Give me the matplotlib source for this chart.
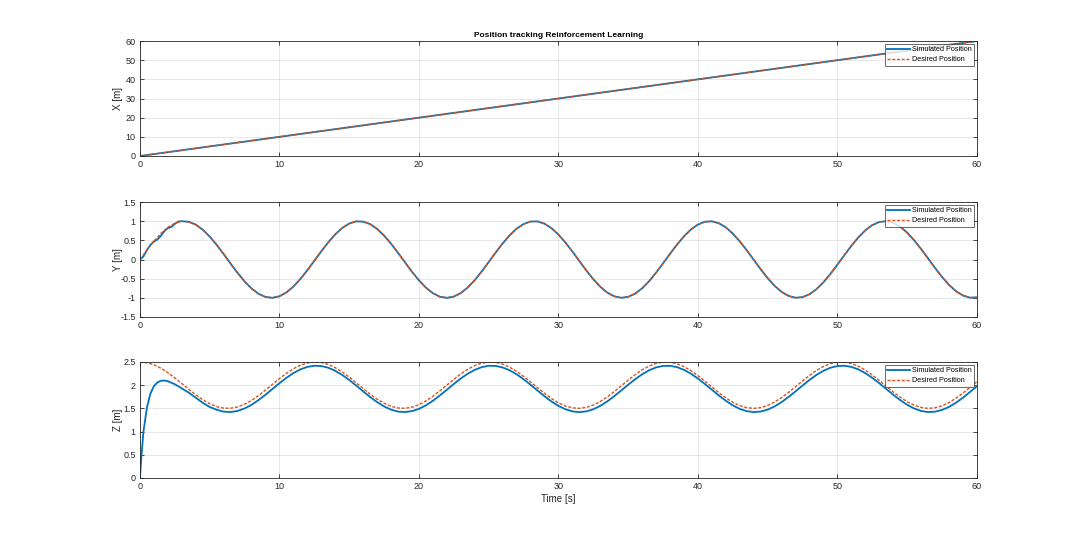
import numpy as np
import matplotlib
matplotlib.use("Agg")
import matplotlib.pyplot as plt

plt.rcParams['font.family'] = ['Liberation Sans', 'DejaVu Sans']

# sample times of the tracked signals [s]
t = np.linspace(0, 60, 121)

# X position (straight ramp)
t_x = [0, 10, 20, 30, 40, 50, 60]
x_desired = [0, 10, 20, 30, 40, 50, 60]
x_simulated = [0, 10, 20, 30, 40, 50, 60]

# Y desired position
y_desired = [
    0.000, 0.247, 0.479, 0.682, 0.841, 0.949, 0.997, 0.984, 0.909, 0.778,
    0.598, 0.382, 0.141, -0.108, -0.351, -0.572, -0.757, -0.895, -0.978, -0.999,
    -0.959, -0.859, -0.706, -0.508, -0.279, -0.033, 0.215, 0.450, 0.657, 0.823,
    0.938, 0.995, 0.989, 0.923, 0.798, 0.624, 0.412, 0.174, -0.075, -0.320,
    -0.544, -0.735, -0.880, -0.971, -1.000, -0.967, -0.875, -0.729, -0.537, -0.311,
    -0.066, 0.182, 0.420, 0.632, 0.804, 0.926, 0.991, 0.994, 0.935, 0.817,
    0.650, 0.441, 0.207, -0.041, -0.288, -0.516, -0.712, -0.864, -0.961, -0.999,
    -0.974, -0.890, -0.751, -0.565, -0.342, -0.099, 0.150, 0.390, 0.606, 0.784,
    0.913, 0.985, 0.997, 0.946, 0.837, 0.676, 0.472, 0.239, -0.009, -0.256,
    -0.488, -0.690, -0.846, -0.952, -0.998, -0.982, -0.906, -0.773, -0.591, -0.374,
    -0.132, 0.116, 0.359, 0.579, 0.763, 0.899, 0.980, 0.999, 0.956, 0.855,
    0.700, 0.501, 0.271, 0.025, -0.223, -0.457, -0.663, -0.828, -0.941, -0.996,
    -0.988,
]

# Y simulated: wobbly start, then on top of the reference
t_y_start = [0, 0.25, 0.5, 0.75, 1.0, 1.25, 1.5, 1.75, 2.0, 2.25, 2.5, 2.75, 3.0]
y_sim_start = [0, 0.08, 0.25, 0.38, 0.47, 0.52, 0.62, 0.74, 0.82, 0.85, 0.93, 0.99, 1.0]

# Z desired position
z_desired = [
    2.500, 2.485, 2.439, 2.366, 2.270, 2.158, 2.036, 1.911, 1.792, 1.686,
    1.600, 1.538, 1.505, 1.503, 1.532, 1.590, 1.673, 1.777, 1.895, 2.019,
    2.142, 2.256, 2.355, 2.431, 2.480, 2.500, 2.489, 2.447, 2.377, 2.284,
    2.174, 2.052, 1.927, 1.807, 1.699, 1.610, 1.545, 1.508, 1.502, 1.527,
    1.581, 1.661, 1.762, 1.879, 2.002, 2.126, 2.242, 2.343, 2.422, 2.475,
    2.499, 2.492, 2.454, 2.388, 2.298, 2.189, 2.069, 1.944, 1.823, 1.712,
    1.620, 1.552, 1.511, 1.501, 1.521, 1.572, 1.649, 1.748, 1.863, 1.986,
    2.110, 2.227, 2.330, 2.413, 2.470, 2.498, 2.495, 2.461, 2.398, 2.311,
    2.204, 2.085, 1.961, 1.838, 1.726, 1.631, 1.559, 1.515, 1.500, 1.517,
    1.564, 1.638, 1.734, 1.847, 1.969, 2.093, 2.212, 2.318, 2.403, 2.464,
    2.496, 2.497, 2.467, 2.408, 2.324, 2.219, 2.102, 1.978, 1.854, 1.741,
    1.643, 1.568, 1.519, 1.500, 1.513, 1.556, 1.626, 1.720, 1.831, 1.953,
    2.077,
]

# Z simulated: take-off transient then slightly below the reference
t_z_start = [0, 0.1, 0.25, 0.5, 0.75, 1.0, 1.25, 1.5, 1.75, 2.0, 2.5, 3.0, 3.5, 4.0, 4.5, 5.0, 5.5, 6.0]
z_sim_start = [0, 0.45, 1.0, 1.52, 1.82, 1.98, 2.06, 2.095, 2.10, 2.085, 2.02, 1.93, 1.84, 1.73, 1.62, 1.53, 1.47, 1.43]
z_sim_rest = [
    1.421, 1.445, 1.499, 1.578, 1.679, 1.795, 1.919,
    2.043, 2.159, 2.261, 2.341, 2.394, 2.419, 2.413, 2.376, 2.310, 2.220,
    2.113, 1.992, 1.867, 1.745, 1.635, 1.542, 1.473, 1.431, 1.421, 1.441,
    1.490, 1.566, 1.664, 1.780, 1.902, 2.027, 2.145, 2.248, 2.331, 2.389,
    2.418, 2.416, 2.382, 2.321, 2.234, 2.128, 2.009, 1.884, 1.762, 1.648,
    1.553, 1.481, 1.435, 1.420, 1.435, 1.482, 1.555, 1.651, 1.764, 1.886,
    2.011, 2.129, 2.235, 2.322, 2.383, 2.416, 2.418, 2.389, 2.330, 2.247,
    2.142, 2.025, 1.901, 1.777, 1.663, 1.565, 1.488, 1.440, 1.420, 1.432,
    1.474, 1.544, 1.637, 1.748, 1.869, 1.993, 2.114, 2.223, 2.311, 2.377,
    2.413, 2.419, 2.394, 2.340, 2.259, 2.157, 2.042, 1.918, 1.793, 1.678,
    1.577, 1.498, 1.444, 1.421, 1.429, 1.467, 1.533, 1.623, 1.732, 1.853,
    1.977,
]

t_y_sim = list(t_y_start) + list(t[7:])
y_simulated = list(y_sim_start) + list(y_desired[7:])
t_z_sim = list(t_z_start) + list(t[13:])
z_simulated = list(z_sim_start) + z_sim_rest

blue = '#0072BD'
orange = '#D95319'
axcol = '#262626'

fig = plt.figure(figsize=(10.8, 5.37), dpi=100)
fig.patch.set_facecolor('white')

boxes = [
    [0.1296, 0.7095, 0.775, 0.2141],
    [0.1296, 0.4097, 0.775, 0.2141],
    [0.1296, 0.1099, 0.775, 0.2160],
]

panels = [
    (t_x, x_simulated, t_x, x_desired, 'X [m]', [0, 60], np.arange(0, 61, 10)),
    (t_y_sim, y_simulated, t, y_desired, 'Y [m]', [-1.5, 1.5], np.arange(-1.5, 1.51, 0.5)),
    (t_z_sim, z_simulated, t, z_desired, 'Z [m]', [0, 2.5], np.arange(0, 2.51, 0.5)),
]

axes = []
for box, (ts, sim, td, des, ylab, ylim, yt) in zip(boxes, panels):
    ax = fig.add_axes(box)
    ax.plot(ts, sim, color=blue, lw=1.3, label='Simulated Position')
    ax.plot(td, des, color=orange, lw=1.0, ls='--', dashes=(2.2, 1.2), label='Desired Position')
    ax.set_xlim(0, 60)
    ax.set_ylim(ylim)
    ax.set_xticks(np.arange(0, 61, 10))
    ax.set_yticks(yt)
    ax.set_yticklabels(['%g' % v for v in yt])
    ax.grid(True, color='#262626', alpha=0.12, lw=0.6)
    ax.tick_params(direction='in', length=3, width=0.6, colors=axcol,
                   labelsize=6.5, top=True, right=True, pad=3)
    for s in ax.spines.values():
        s.set_color(axcol)
        s.set_linewidth(0.6)
    ax.set_ylabel(ylab, fontsize=7, color=axcol)
    ax.yaxis.set_label_coords(-0.02, 0.5)
    leg = ax.legend(loc='upper right', fontsize=5.2, frameon=True, fancybox=False,
                    borderpad=0.35, handlelength=3.2, handletextpad=0.2,
                    labelspacing=0.35, borderaxespad=0.4)
    leg.get_frame().set_edgecolor(axcol)
    leg.get_frame().set_linewidth(0.6)
    axes.append(ax)

axes[0].set_title('Position tracking Reinforcement Learning', fontsize=6,
                  fontweight='bold', color='black', pad=3)
axes[2].set_xlabel('Time [s]', fontsize=7, color=axcol, labelpad=2)

fig.savefig('out.png', dpi=100, facecolor='white')
